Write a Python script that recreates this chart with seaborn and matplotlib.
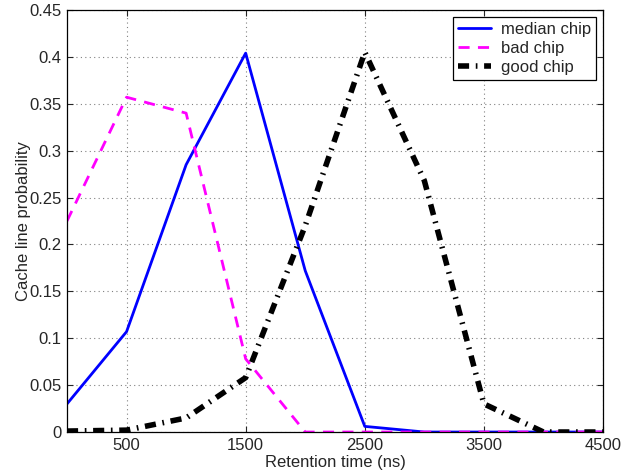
import matplotlib
matplotlib.use("Agg")
import matplotlib.pyplot as plt
import seaborn as sns
import pandas as pd

retention = [0, 500, 1000, 1500, 2000, 2500, 3000, 3500, 4000, 4500]
median_chip = [0.030, 0.107, 0.285, 0.404, 0.172, 0.006, 0.0, 0.0, 0.0, 0.0]
bad_chip = [0.225, 0.357, 0.340, 0.078, 0.0, 0.0, 0.0, 0.0, 0.0, 0.0]
good_chip = [0.001, 0.002, 0.015, 0.058, 0.220, 0.405, 0.268, 0.030, 0.0, 0.0]
series_names = ["median chip", "bad chip", "good chip"]
xticks = [500, 1500, 2500, 3500, 4500]
yticks = [0, 0.05, 0.1, 0.15, 0.2, 0.25, 0.3, 0.35, 0.4, 0.45]
ytick_labels = ["0", "0.05", "0.1", "0.15", "0.2", "0.25", "0.3", "0.35", "0.4", "0.45"]

sns.set_style("ticks")
plt.rcParams['font.family'] = ['Liberation Sans', 'DejaVu Sans']

df = pd.DataFrame({
    "x": retention * 3,
    "y": median_chip + bad_chip + good_chip,
    "series": [series_names[0]] * len(retention) + [series_names[1]] * len(retention) + [series_names[2]] * len(retention),
})

fig = plt.figure(figsize=(6.34, 4.75), dpi=100)
ax = fig.add_axes([0.1057, 0.0905, 0.8454, 0.8885])

styles = {
    "median chip": dict(color="#0000ff", lw=2.0, ls="-"),
    "bad chip": dict(color="#ff00ff", lw=2.0, ls=(0, (4, 3))),
    "good chip": dict(color="black", lw=4.0, ls=(0, (2.0, 1.2, 0.3, 1.2))),
}
for name in series_names:
    sub = df[df["series"] == name]
    st = styles[name]
    sns.lineplot(data=sub, x="x", y="y", ax=ax, color=st["color"], linewidth=st["lw"],
                 linestyle=st["ls"], label=name, estimator=None, sort=False)

ax.set_xlim(0, 4500)
ax.set_ylim(0, 0.45)
ax.set_xticks(xticks)
ax.set_yticks(yticks)
ax.set_yticklabels(ytick_labels)
ax.tick_params(direction="in", labelsize=12, length=4, top=True, right=True, width=0.8, pad=4)
ax.grid(True, linestyle=(0, (1, 3)), color="#808080", linewidth=0.8)
for s in ax.spines.values():
    s.set_visible(True)
    s.set_linewidth(0.9)
    s.set_color("black")
ax.set_xlabel("Retention time (ns)", fontsize=12, labelpad=2)
ax.set_ylabel("Cache line probability", fontsize=12, labelpad=-1.5)

leg = ax.legend(loc="upper right", fontsize=12, fancybox=False, framealpha=1,
                edgecolor="black", borderpad=0.3, labelspacing=0.25, handlelength=2.0,
                handletextpad=0.6, borderaxespad=0.4)
leg.get_frame().set_linewidth(0.9)

fig.savefig("out.png", dpi=100)
